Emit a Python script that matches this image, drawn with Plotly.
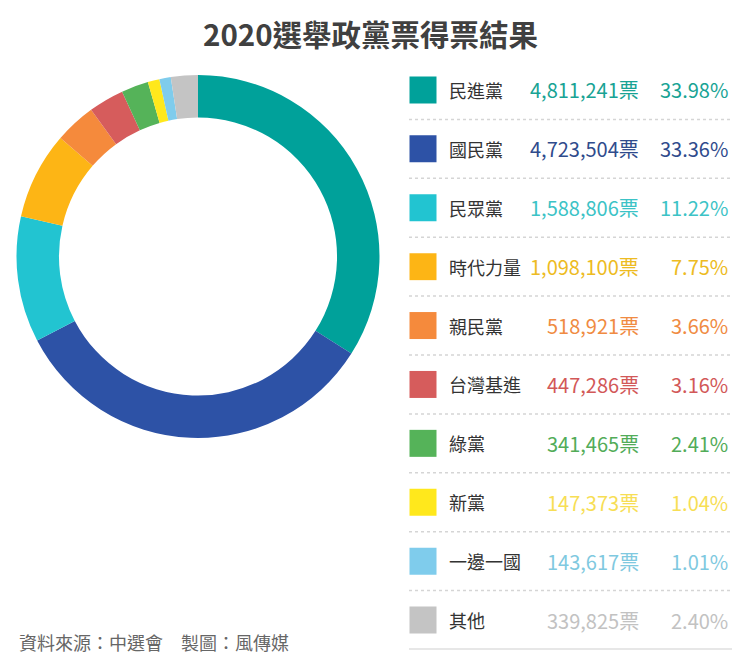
import plotly.graph_objects as go

parties = ["民進黨", "國民黨", "民眾黨", "時代力量", "親民黨", "台灣基進", "綠黨", "新黨", "一邊一國", "其他"]
votes = [4811241, 4723504, 1588806, 1098100, 518921, 447286, 341465, 147373, 143617, 339825]
pcts = [33.98, 33.36, 11.22, 7.75, 3.66, 3.16, 2.41, 1.04, 1.01, 2.40]
colors = ["#00A19A", "#2D52A6", "#22C4D1", "#FDB515", "#F58A3C", "#D65C5C",
          "#55B359", "#FFE81C", "#7FCCEC", "#C4C4C4"]
text_colors = ["#18A394", "#2F4B8C", "#3CC3C6", "#EDBB22", "#F08B42", "#D25858",
               "#52AC58", "#F7DE55", "#7FC9E0", "#C2C2C2"]

title = "2020選舉政黨票得票結果"
footer = "資料來源：中選會　製圖：風傳媒"
FONT = "Noto Sans CJK TC, Noto Sans CJK SC, sans-serif"

# page offset of the plot inside the browser window
OFF = 8
PW, PH = 740, 672
W, H = PW - OFF, PH - OFF


def px(x):
    return (x - OFF) / W


def py(y):
    return 1 - (y - OFF) / H


fig = go.Figure()

# donut
fig.add_trace(go.Pie(
    labels=parties, values=votes, sort=False, direction="clockwise", rotation=0,
    hole=0.766, textinfo="none",
    marker=dict(colors=colors, line=dict(width=0)),
    domain=dict(x=[px(16.5), px(379.5)], y=[py(438), py(75)]),
    showlegend=False,
))

# legend squares
fig.add_trace(go.Scatter(
    x=[423] * len(parties), y=parties, mode="markers",
    marker=dict(symbol="square", size=27, color=colors, line=dict(width=0)),
    showlegend=False, hoverinfo="skip", xaxis="x", yaxis="y",
))

annotations = []
for i, p in enumerate(parties):
    annotations.append(dict(x=447, y=p, xref="x", yref="y", text=p, showarrow=False,
                            xanchor="left", yanchor="middle",
                            font=dict(size=18, color="#333333", family=FONT)))
    annotations.append(dict(x=641, y=p, xref="x", yref="y", text=f"{votes[i]:,}票",
                            showarrow=False, xanchor="right", yanchor="middle",
                            font=dict(size=20, color=text_colors[i], family=FONT)))
    annotations.append(dict(x=730, y=p, xref="x", yref="y", text=f"{pcts[i]:.2f}%",
                            showarrow=False, xanchor="right", yanchor="middle",
                            font=dict(size=20, color=text_colors[i], family=FONT)))

annotations.append(dict(x=px(370), y=py(33), xref="paper", yref="paper", text=f"<b>{title}</b>",
                        showarrow=False, xanchor="center", yanchor="middle",
                        font=dict(size=29.5, color="#404040", family=FONT)))
annotations.append(dict(x=px(17), y=py(642), xref="paper", yref="paper", text=footer,
                        showarrow=False, xanchor="left", yanchor="middle",
                        font=dict(size=18, color="#666666", family=FONT)))

shapes = []
for k in range(len(parties) - 1):
    shapes.append(dict(type="line", xref="x", yref="y", x0=409, x1=733, y0=k + 0.5, y1=k + 0.5,
                       line=dict(color="#D5D5D5", width=1.5, dash="dot")))
shapes.append(dict(type="line", xref="x", yref="y", x0=409, x1=733,
                   y0=len(parties) - 0.5, y1=len(parties) - 0.5,
                   line=dict(color="#CFCFCF", width=2)))

fig.update_layout(
    width=W, height=H, margin=dict(l=0, r=0, t=0, b=0),
    paper_bgcolor="white", plot_bgcolor="white",
    font=dict(family=FONT),
    xaxis=dict(range=[OFF, PW], domain=[0, 1], visible=False, fixedrange=True),
    yaxis=dict(type="category", categoryorder="array", categoryarray=parties,
               range=[len(parties) - 0.5, -0.5], domain=[py(649.5), py(60.5)],
               visible=False, fixedrange=True),
    annotations=annotations, shapes=shapes,
)

fig.write_html("out.html")
